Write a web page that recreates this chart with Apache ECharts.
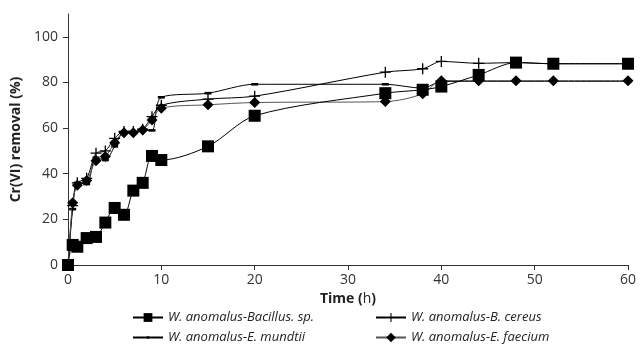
<!DOCTYPE html>
<html>
<head>
<meta charset="utf-8">
<script src="https://cdn.jsdelivr.net/npm/echarts@6/dist/echarts.min.js"></script>
<style>
  html, body { margin: 0; padding: 0; background: #fff; }
  #chart { width: 641px; height: 345px; }
</style>
</head>
<body>
<div id="chart"></div>
<script>
// Time (h) of each sampling point
const timeBacillus = [0, 0.5, 1, 2, 3, 4, 5, 6, 7, 8, 9, 10, 15, 20, 34, 38, 40, 44, 48, 52, 60];
const valBacillus  = [0, 8.8, 8, 11.8, 12.3, 18.6, 25, 22, 32.6, 36, 47.8, 46, 52, 65.4, 75.3, 76.8, 78.2, 83.3, 88.7, 88.2, 88.2];

const timeCereus = [0, 0.5, 1, 2, 3, 4, 5, 6, 7, 8, 9, 10, 15, 20, 34, 38, 40, 44, 48, 52, 60];
const valCereus  = [0, 26, 36, 38, 49, 50, 55.5, 58.5, 58.5, 59.5, 65, 70, 72.7, 74, 84.5, 86, 89.2, 88.4, 88.7, 88.2, 88.2];

const timeMundtii = [0, 0.5, 1, 2, 3, 4, 5, 6, 7, 8, 9, 10, 15, 20, 34, 38, 40, 44, 48, 52, 60];
const valMundtii  = [0, 24.5, 36, 35.5, 47, 46, 52, 58, 58, 59, 59, 73.5, 75.3, 79.2, 79.2, 77.5, 80.4, 80.5, 80.5, 80.5, 80.5];

const timeFaecium = [0, 0.5, 1, 2, 3, 4, 5, 6, 7, 8, 9, 10, 15, 20, 34, 38, 40, 44, 48, 52, 60];
const valFaecium  = [0, 27.3, 35, 37, 45.7, 47.5, 53.6, 58, 58, 59.2, 63.6, 68.7, 70.2, 71.2, 71.6, 75, 80.8, 80.8, 80.8, 80.8, 80.8];

const seriesNames = [
    'W. anomalus-Bacillus. sp.',
    'W. anomalus-B. cereus',
    'W. anomalus-E. mundtii',
    'W. anomalus-E. faecium'
];

const yTicks = [0, 20, 40, 60, 80, 100];
const xTicks = [0, 10, 20, 30, 40, 50, 60];

const plusPath = 'path://M4.4,0H5.6V4.4H10V5.6H5.6V10H4.4V5.6H0V4.4H4.4Z';
const dashPath = 'path://M0,0H7V2.6H0Z';

function pairs(xs, ys) {
    return xs.map((x, i) => [x, ys[i]]);
}

const chart = echarts.init(document.getElementById('chart'), null, { renderer: 'canvas' });

const lineStyle = { color: '#000', width: 1 };
const legendText = {
    fontFamily: 'Open Sans',
    fontStyle: 'italic',
    fontSize: 13,
    color: '#222'
};

function makeLegend(name, left, top, iconH) {
    return {
        data: [name],
        left: left,
        top: top,
        itemWidth: 30,
        itemHeight: iconH,
        itemGap: 4,
        textStyle: legendText,
        selectedMode: false
    };
}

const option = {
    animation: false,
    backgroundColor: '#fff',
    grid: { left: 68, right: 13, top: 14, bottom: 80 },
    legend: [
        makeLegend(seriesNames[0], 127, 306, 11),
        makeLegend(seriesNames[1], 370, 306, 11),
        makeLegend(seriesNames[2], 127, 326, 3),
        makeLegend(seriesNames[3], 370, 326, 12)
    ],
    xAxis: {
        type: 'value',
        min: 0,
        max: 60,
        interval: 10,
        name: '{b|Time (}{n|h}{b|)}',
        nameLocation: 'middle',
        nameGap: 26,
        nameTextStyle: {
            rich: {
                b: { fontFamily: 'Open Sans', fontWeight: 'bold', fontSize: 14, color: '#222' },
                n: { fontFamily: 'Open Sans', fontWeight: 'normal', fontSize: 14, color: '#222' }
            }
        },
        splitLine: { show: false },
        axisLine: { lineStyle: { color: '#333', width: 1 } },
        axisTick: { show: true, length: 5, lineStyle: { color: '#333' }, customValues: xTicks },
        axisLabel: {
            customValues: xTicks,
            fontFamily: 'Open Sans',
            fontSize: 14,
            color: '#333',
            margin: 8
        }
    },
    yAxis: {
        type: 'value',
        min: 0,
        max: 110,
        interval: 20,
        name: 'Cr(VI) removal (%)',
        nameLocation: 'middle',
        nameRotate: 90,
        nameGap: 42,
        nameTextStyle: {
            fontFamily: 'Open Sans',
            fontWeight: 'bold',
            fontSize: 14,
            color: '#222'
        },
        splitLine: { show: false },
        axisLine: { show: true, lineStyle: { color: '#333', width: 1 } },
        axisTick: { show: true, length: 5, lineStyle: { color: '#333' }, customValues: yTicks },
        axisLabel: {
            customValues: yTicks,
            fontFamily: 'Open Sans',
            fontSize: 14,
            color: '#333',
            margin: 10
        }
    },
    series: [
        {
            name: seriesNames[0],
            type: 'line',
            smooth: 0.3,
            data: pairs(timeBacillus, valBacillus),
            symbol: 'rect',
            symbolSize: 12,
            lineStyle: lineStyle,
            itemStyle: { color: '#000' },
            z: 4
        },
        {
            name: seriesNames[1],
            type: 'line',
            smooth: 0.3,
            data: pairs(timeCereus, valCereus),
            symbol: plusPath,
            symbolSize: 11,
            lineStyle: lineStyle,
            itemStyle: { color: '#000' },
            z: 3
        },
        {
            name: seriesNames[2],
            type: 'line',
            smooth: 0.3,
            data: pairs(timeMundtii, valMundtii),
            symbol: dashPath,
            symbolSize: 7,
            symbolKeepAspect: true,
            lineStyle: lineStyle,
            itemStyle: { color: '#000' },
            z: 2
        },
        {
            name: seriesNames[3],
            type: 'line',
            smooth: 0.3,
            data: pairs(timeFaecium, valFaecium),
            symbol: 'diamond',
            symbolSize: 11,
            lineStyle: { color: '#555', width: 1 },
            itemStyle: { color: '#000' },
            z: 3
        }
    ]
};

chart.setOption(option);
</script>
</body>
</html>
